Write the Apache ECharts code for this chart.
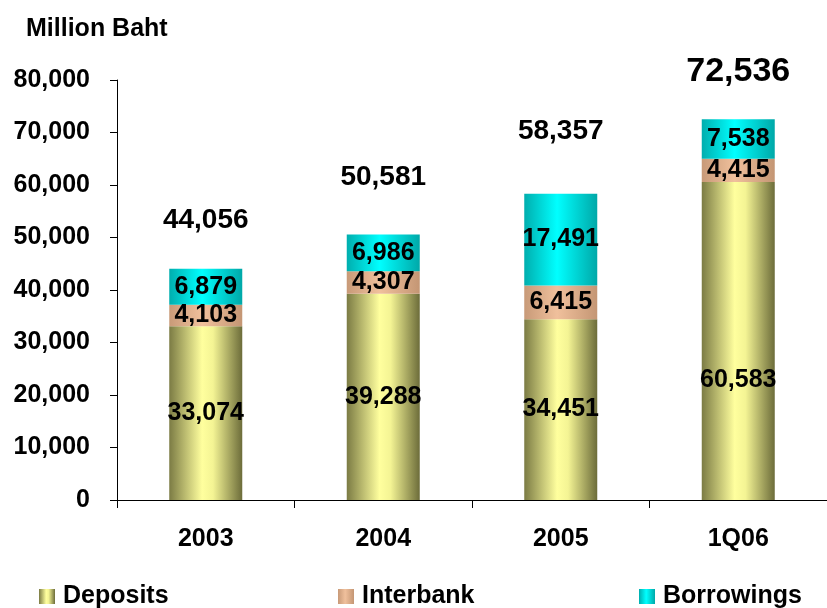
<!DOCTYPE html>
<html>
<head>
<meta charset="utf-8">
<script src="https://cdn.jsdelivr.net/npm/echarts@6/dist/echarts.min.js"></script>
<style>
  html, body { margin: 0; padding: 0; background: #fff; }
  #chart { width: 827px; height: 608px; }
</style>
</head>
<body>
<div id="chart"></div>
<script>
// data
const categories = ['2003', '2004', '2005', '1Q06']
const deposits = [33074, 39288, 34451, 60583]
const interbank = [4103, 4307, 6415, 4415]
const borrowings = [6879, 6986, 17491, 7538]
const totals = [44056, 50581, 58357, 72536]

const FONT = 'Liberation Sans, Arial, sans-serif'

const fmt = v => Number(v).toLocaleString('en-US')

// horizontal gradients to get the cylinder look
const depositsColor = new echarts.graphic.LinearGradient(0, 0, 1, 0, [
  { offset: 0, color: '#7b7b44' },
  { offset: 0.45, color: '#ffff9e' },
  { offset: 0.6, color: '#f4f494' },
  { offset: 1, color: '#6c6c3a' }
])
const interbankColor = new echarts.graphic.LinearGradient(0, 0, 1, 0, [
  { offset: 0, color: '#c89a78' },
  { offset: 0.45, color: '#f0c09c' },
  { offset: 1, color: '#c49674' }
])
const borrowingsColor = new echarts.graphic.LinearGradient(0, 0, 1, 0, [
  { offset: 0, color: '#00aeae' },
  { offset: 0.45, color: '#00ffff' },
  { offset: 1, color: '#00a8a8' }
])

const innerLabel = {
  show: true,
  position: 'inside',
  color: '#000',
  fontFamily: FONT,
  fontWeight: 'bold',
  fontSize: 25,
  formatter: p => fmt(p.value)
}

// small per-bar tweaks for the total labels above each bar
const totalGap = [34, 43, 48, 31]
const totalSize = [28, 28, 28, 34]

var myChart = echarts.init(document.getElementById('chart'))

myChart.setOption({
  animation: false,
  title: {
    text: 'Million Baht',
    left: 21,
    top: 12,
    textStyle: { fontFamily: FONT, fontWeight: 'bold', fontSize: 25, color: '#000' }
  },
  legend: [
    { data: ['Deposits'], left: 39 },
    { data: ['Interbank'], left: 338 },
    { data: ['Borrowings'], left: 639 }
  ].map(l => Object.assign(l, {
    top: 584,
    padding: 0,
    icon: 'rect',
    itemWidth: 16,
    itemHeight: 15,
    itemGap: 6,
    textStyle: {
      fontFamily: FONT, fontWeight: 'bold', fontSize: 25, color: '#000',
      padding: [0, 0, 0, 3]
    }
  })),
  grid: {
    left: 117,
    top: 80,
    width: 714,
    height: 420
  },
  xAxis: {
    type: 'category',
    data: categories,
    axisLine: { lineStyle: { color: '#000', width: 1 } },
    axisTick: { show: true, length: 8, lineStyle: { color: '#000' } },
    axisLabel: {
      margin: 27,
      color: '#000',
      fontFamily: FONT,
      fontWeight: 'bold',
      fontSize: 25
    }
  },
  yAxis: {
    type: 'value',
    min: 0,
    max: 80000,
    interval: 10000,
    splitLine: { show: false },
    axisLine: { show: true, lineStyle: { color: '#000', width: 1 } },
    axisTick: { show: true, length: 7, lineStyle: { color: '#000' } },
    axisLabel: {
      margin: 27,
      color: '#000',
      fontFamily: FONT,
      fontWeight: 'bold',
      fontSize: 25,
      formatter: v => fmt(v)
    }
  },
  series: [
    {
      name: 'Deposits',
      type: 'bar',
      stack: 'total',
      barWidth: 73,
      itemStyle: { color: depositsColor },
      label: innerLabel,
      data: deposits.map((v, i) => i === 3 ? { value: v, label: { offset: [0, 39] } } : v)
    },
    {
      name: 'Interbank',
      type: 'bar',
      stack: 'total',
      barWidth: 73,
      itemStyle: { color: interbankColor },
      label: innerLabel,
      data: interbank
    },
    {
      name: 'Borrowings',
      type: 'bar',
      stack: 'total',
      barWidth: 73,
      itemStyle: { color: borrowingsColor },
      label: innerLabel,
      data: borrowings
    },
    {
      // invisible bar sitting on top of the stack, only carries the total label
      name: 'Total',
      type: 'bar',
      barWidth: 73,
      barGap: '-100%',
      silent: true,
      z: 1,
      itemStyle: { color: 'rgba(0,0,0,0)' },
      label: {
        show: true,
        position: 'top',
        color: '#000',
        fontFamily: FONT,
        fontWeight: 'bold',
        fontSize: 28,
        formatter: p => fmt(p.value)
      },
      data: totals.map((v, i) => ({
        value: v,
        label: { distance: totalGap[i], fontSize: totalSize[i] }
      }))
    }
  ]
})
</script>
</body>
</html>
